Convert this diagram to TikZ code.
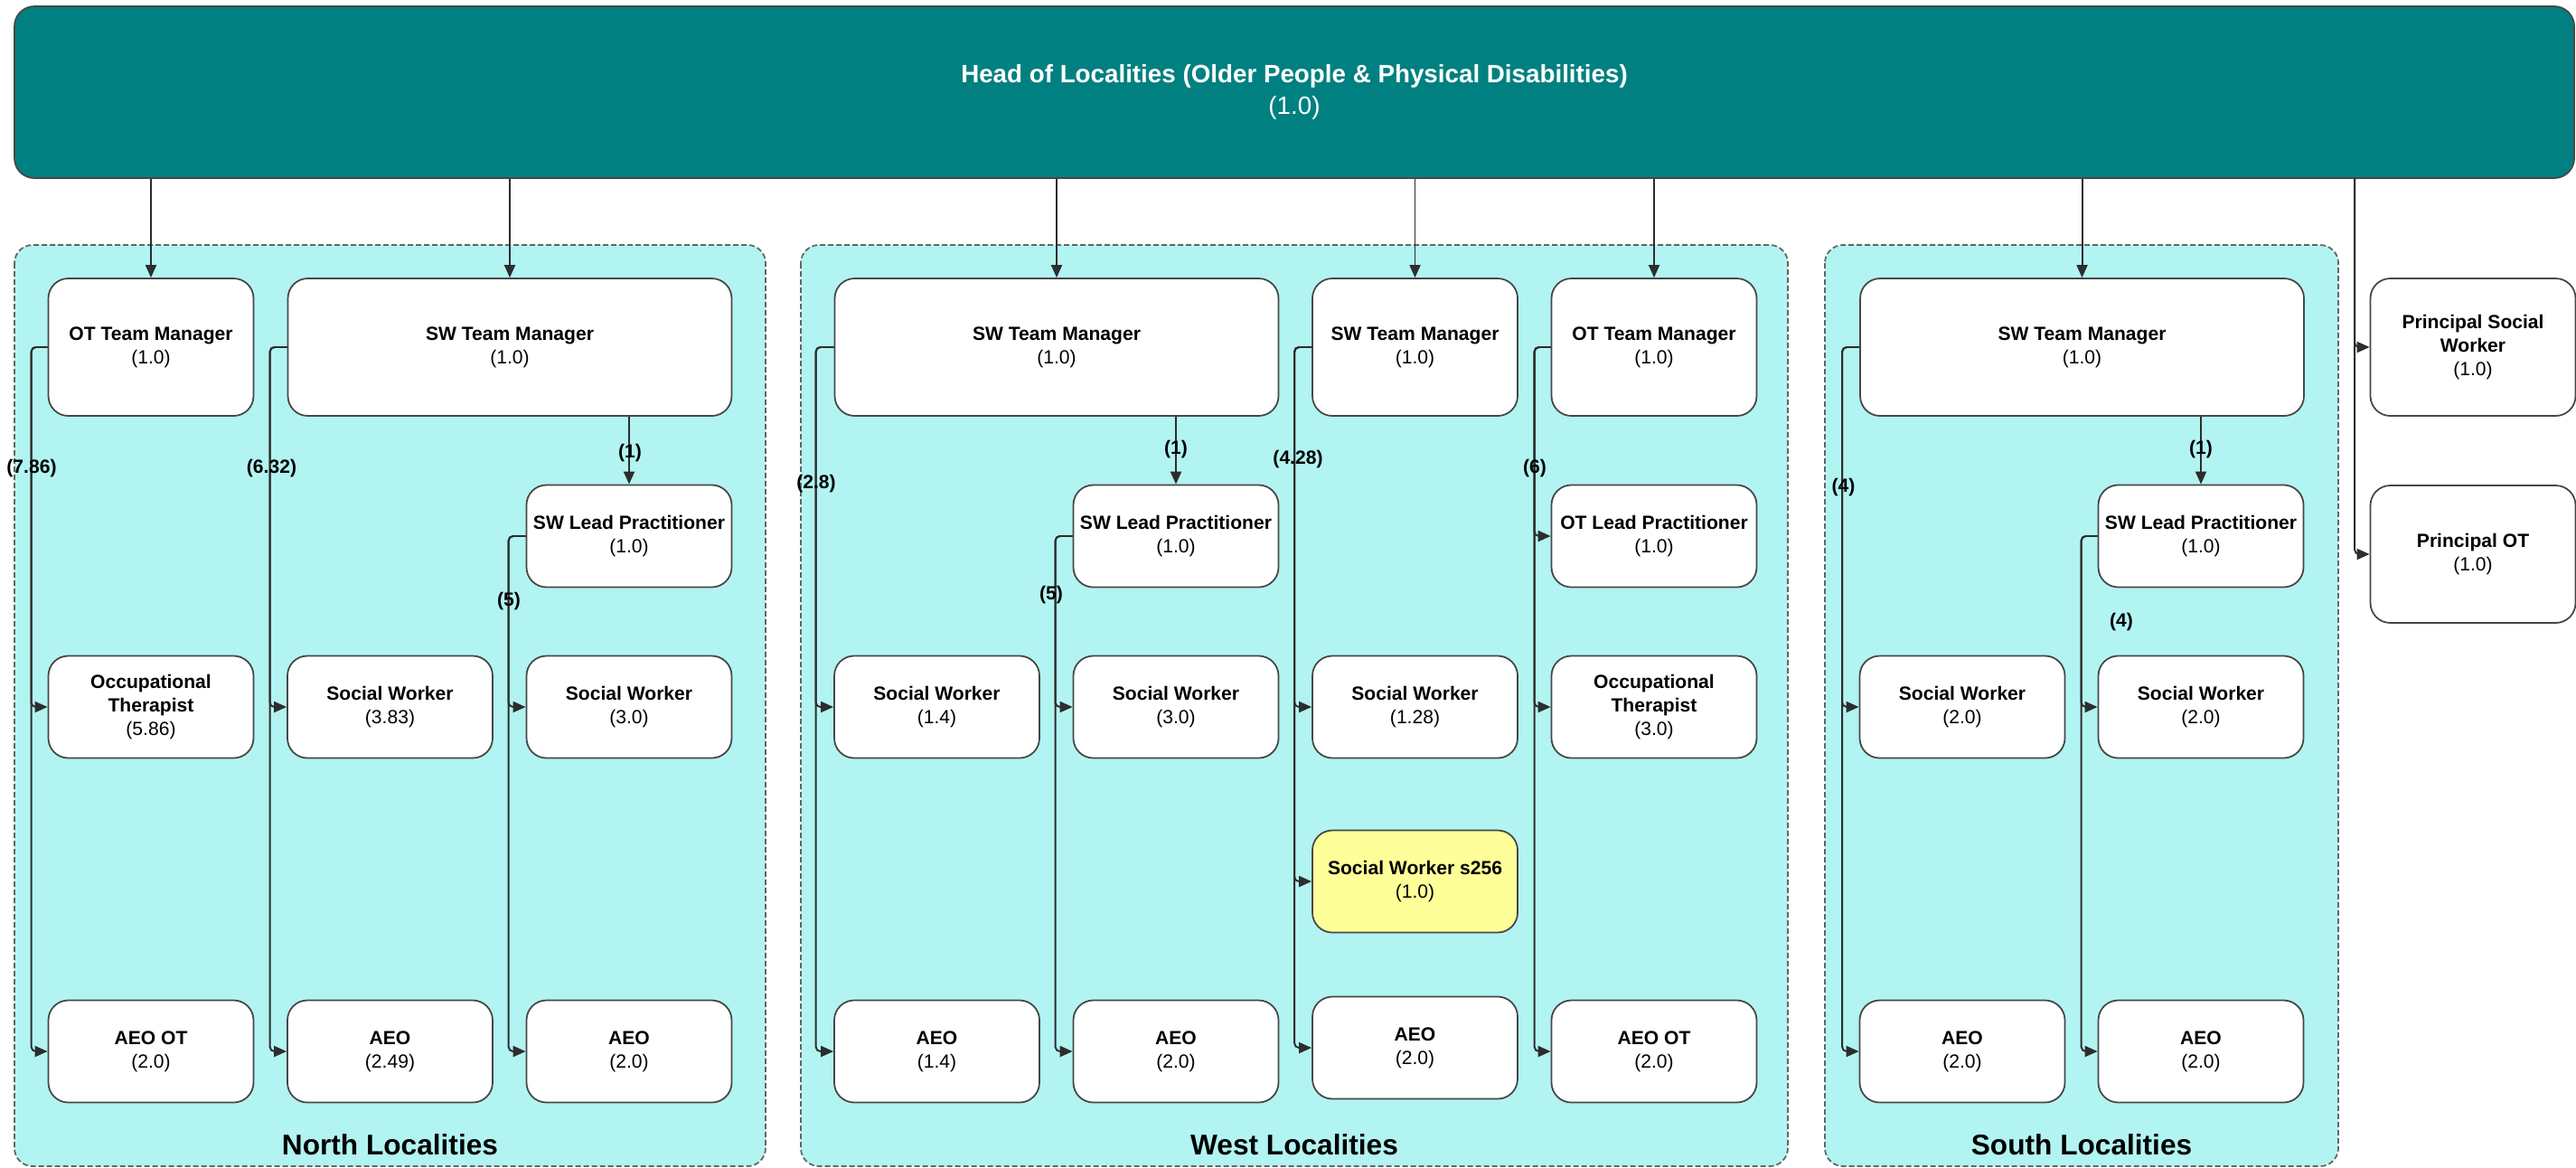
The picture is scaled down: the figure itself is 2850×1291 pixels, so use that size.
\documentclass[tikz,border=0pt]{standalone}
\usepackage{fontspec}
\setmainfont{Liberation Sans}
\usetikzlibrary{arrows.meta}

\definecolor{headfill}{RGB}{0,128,128}
\definecolor{areafill}{RGB}{178,244,242}
\definecolor{s256fill}{RGB}{255,255,153}
\definecolor{boxline}{RGB}{70,70,70}
\definecolor{connline}{RGB}{45,45,45}
\definecolor{arealine}{RGB}{100,100,100}

\begin{document}
\begin{tikzpicture}[x=0.1mm,y=-0.1mm,
  head node/.style={draw=boxline,fill=headfill,text=white,rounded corners=2.2mm,align=center,inner sep=0pt,
    minimum width=283.2mm,minimum height=19mm,line width=0.5pt,font=\fontsize{7.9}{10.1}\selectfont},
  post node/.style={draw=boxline,fill=white,rounded corners=2.2mm,align=center,inner sep=0pt,
    minimum width=22.7mm,minimum height=11.3mm,line width=0.5pt,font=\fontsize{6}{7.4}\selectfont},
  manager node/.style={post node,minimum height=15.2mm},
  wide node/.style={manager node,minimum width=49.1mm},
  area/.style={draw=arealine,fill=areafill,dash pattern=on 0.6mm off 0.3mm,rounded corners=2mm,line width=0.5pt},
  area title/.style={font=\fontsize{9}{11}\selectfont\bfseries,inner sep=0pt},
  conn/.style={draw=connline,line width=0.55pt,rounded corners=0.5mm,-{Triangle[length=1.4mm,width=1.2mm]}},
  fte/.style={font=\fontsize{6}{7.4}\selectfont\bfseries,inner sep=0pt}]

\useasboundingbox (0,0) rectangle (2850,1291);

% localities
\draw[area] (16,271) rectangle (847,1290);
\draw[area] (886,271) rectangle (1978,1290);
\draw[area] (2019,271) rectangle (2587,1290);
\node[area title] (north) at (431.5,1266) {North Localities};
\node[area title] (west) at (1432,1266) {West Localities};
\node[area title] (south) at (2303,1266) {South Localities};

\node[head node] (head) at (1432,102) {\textbf{Head of Localities (Older People \& Physical Disabilities)}\\(1.0)};

% north
\node[manager node] (ntmot) at (167,384) {\textbf{OT Team Manager}\\(1.0)};
\node[wide node] (ntmsw) at (564,384) {\textbf{SW Team Manager}\\(1.0)};
\node[post node] (nlp) at (696,593) {\textbf{SW Lead Practitioner}\\(1.0)};
\node[post node] (not) at (167,782) {\textbf{Occupational}\\\textbf{Therapist}\\(5.86)};
\node[post node] (nswa) at (431.5,782) {\textbf{Social Worker}\\(3.83)};
\node[post node] (nswb) at (696,782) {\textbf{Social Worker}\\(3.0)};
\node[post node] (naeoot) at (167,1163) {\textbf{AEO OT}\\(2.0)};
\node[post node] (naeoa) at (431.5,1163) {\textbf{AEO}\\(2.49)};
\node[post node] (naeob) at (696,1163) {\textbf{AEO}\\(2.0)};

% west
\node[wide node] (wtmsw) at (1169,384) {\textbf{SW Team Manager}\\(1.0)};
\node[manager node] (wtmswb) at (1565.5,384) {\textbf{SW Team Manager}\\(1.0)};
\node[manager node] (wtmot) at (1830,384) {\textbf{OT Team Manager}\\(1.0)};
\node[post node] (wlp) at (1301,593) {\textbf{SW Lead Practitioner}\\(1.0)};
\node[post node] (wotlp) at (1830,593) {\textbf{OT Lead Practitioner}\\(1.0)};
\node[post node] (wswa) at (1036.5,782) {\textbf{Social Worker}\\(1.4)};
\node[post node] (wswb) at (1301,782) {\textbf{Social Worker}\\(3.0)};
\node[post node] (wswc) at (1565.5,782) {\textbf{Social Worker}\\(1.28)};
\node[post node] (wot) at (1830,782) {\textbf{Occupational}\\\textbf{Therapist}\\(3.0)};
\node[post node,fill=s256fill] (ws256) at (1565.5,975) {\textbf{Social Worker s256}\\(1.0)};
\node[post node] (waeoa) at (1036.5,1163) {\textbf{AEO}\\(1.4)};
\node[post node] (waeob) at (1301,1163) {\textbf{AEO}\\(2.0)};
\node[post node] (waeoc) at (1565.5,1159) {\textbf{AEO}\\(2.0)};
\node[post node] (waeoot) at (1830,1163) {\textbf{AEO OT}\\(2.0)};

% south
\node[wide node] (stmsw) at (2303.5,384) {\textbf{SW Team Manager}\\(1.0)};
\node[post node] (slp) at (2435,593) {\textbf{SW Lead Practitioner}\\(1.0)};
\node[post node] (sswa) at (2171,782) {\textbf{Social Worker}\\(2.0)};
\node[post node] (sswb) at (2435,782) {\textbf{Social Worker}\\(2.0)};
\node[post node] (saeoa) at (2171,1163) {\textbf{AEO}\\(2.0)};
\node[post node] (saeob) at (2435,1163) {\textbf{AEO}\\(2.0)};

% principals
\node[manager node] (psw) at (2736,384) {\textbf{Principal Social}\\\textbf{Worker}\\(1.0)};
\node[manager node] (pot) at (2736,613) {\textbf{Principal OT}\\(1.0)};

% from head
\draw[conn] (head.south -| ntmot.north) -- (ntmot.north);
\draw[conn] (head.south -| ntmsw.north) -- (ntmsw.north);
\draw[conn] (head.south -| wtmsw.north) -- (wtmsw.north);
\draw[conn] (head.south -| wtmswb.north) -- (wtmswb.north);
\draw[conn] (head.south -| wtmot.north) -- (wtmot.north);
\draw[conn] (head.south -| stmsw.north) -- (stmsw.north);
\coordinate (trunk) at (2605,197);
\draw[conn] (trunk) |- (psw.west);
\draw[conn] (trunk) |- (pot.west);

% to lead practitioners
\draw[conn] (ntmsw.south -| nlp.north) -- (nlp.north);
\draw[conn] (wtmsw.south -| wlp.north) -- (wlp.north);
\draw[conn] (stmsw.south -| slp.north) -- (slp.north);

% north teams
\draw[conn] (ntmot.west) -- ++(-18,0) |- (not.west);
\draw[conn] (ntmot.west) -- ++(-18,0) |- (naeoot.west);
\draw[conn] (ntmsw.west) -- ++(-19,0) |- (nswa.west);
\draw[conn] (ntmsw.west) -- ++(-19,0) |- (naeoa.west);
\draw[conn] (nlp.west) -- ++(-19,0) |- (nswb.west);
\draw[conn] (nlp.west) -- ++(-19,0) |- (naeob.west);

% west teams
\draw[conn] (wtmsw.west) -- ++(-20,0) |- (wswa.west);
\draw[conn] (wtmsw.west) -- ++(-20,0) |- (waeoa.west);
\draw[conn] (wlp.west) -- ++(-19,0) |- (wswb.west);
\draw[conn] (wlp.west) -- ++(-19,0) |- (waeob.west);
\draw[conn] (wtmswb.west) -- ++(-19,0) |- (wswc.west);
\draw[conn] (wtmswb.west) -- ++(-19,0) |- (ws256.west);
\draw[conn] (wtmswb.west) -- ++(-19,0) |- (waeoc.west);
\draw[conn] (wtmot.west) -- ++(-18,0) |- (wotlp.west);
\draw[conn] (wtmot.west) -- ++(-18,0) |- (wot.west);
\draw[conn] (wtmot.west) -- ++(-18,0) |- (waeoot.west);

% south teams
\draw[conn] (stmsw.west) -- ++(-19,0) |- (sswa.west);
\draw[conn] (stmsw.west) -- ++(-19,0) |- (saeoa.west);
\draw[conn] (slp.west) -- ++(-18,0) |- (sswb.west);
\draw[conn] (slp.west) -- ++(-18,0) |- (saeob.west);

% counts
\node[fte] (cnot) at (35,518) {(7.86)};
\node[fte] (cnsw) at (300.5,518) {(6.32)};
\node[fte] (cnlp) at (697,501) {(1)};
\node[fte] (cnsw5) at (563,665) {(5)};
\node[fte] (cwsw) at (903,535) {(2.8)};
\node[fte] (cwlp) at (1301,497) {(1)};
\node[fte] (cwsw5) at (1163,658) {(5)};
\node[fte] (cwswb) at (1436,508) {(4.28)};
\node[fte] (cwot) at (1698,518) {(6)};
\node[fte] (cssw) at (2039.5,539) {(4)};
\node[fte] (cslp) at (2435,497) {(1)};
\node[fte] (cssw4) at (2347,688) {(4)};

\end{tikzpicture}
\end{document}
